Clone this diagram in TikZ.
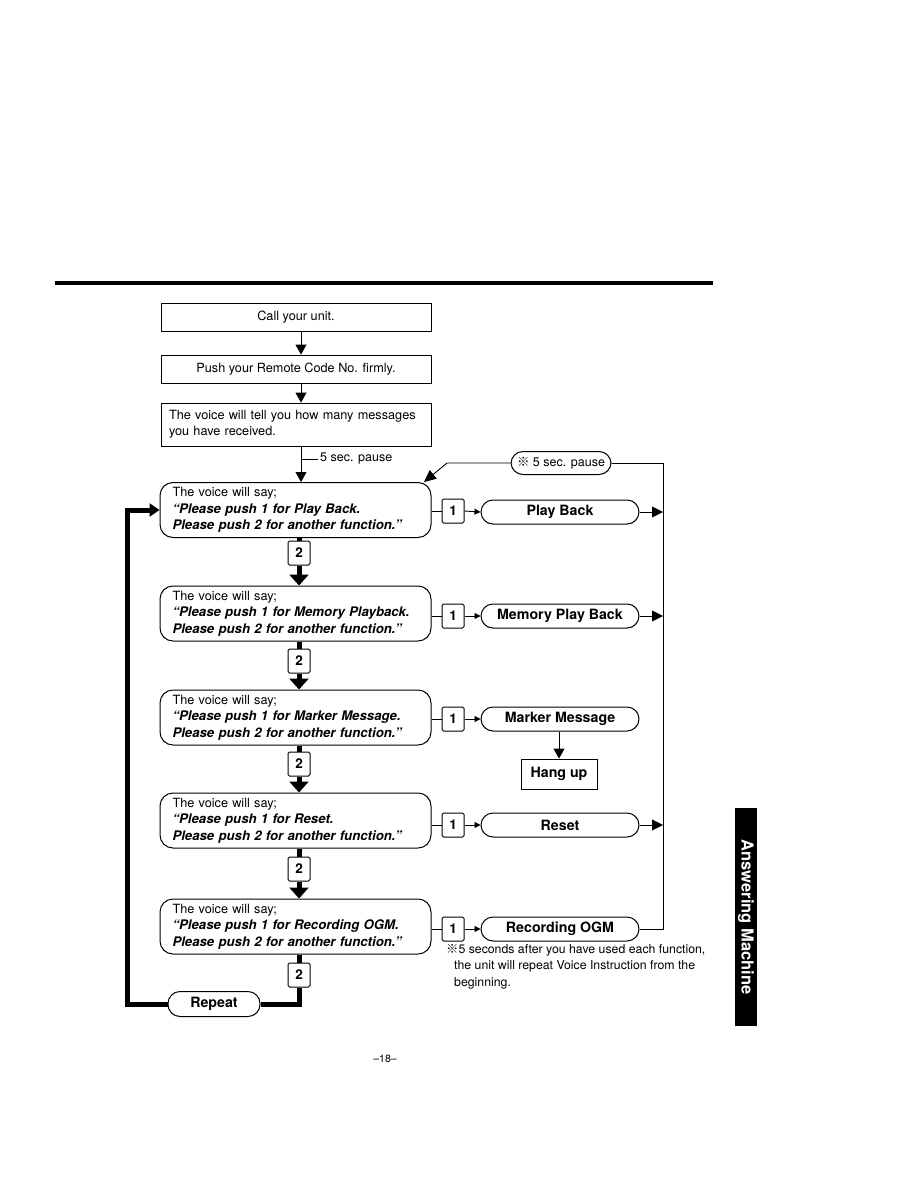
\documentclass[tikz,border=0pt]{standalone}
\usepackage{fontspec}
\setmainfont{TeX Gyre Heros}
\newfontfamily\marksym{Noto Sans CJK SC}
\usetikzlibrary{arrows.meta,positioning}

\newcommand\sayline[1]{{\fontsize{13.2}{16.5}\selectfont\textbf{\textit{#1}}}}

\tikzset{
  plainbox/.style={draw, line width=0.9pt, minimum width=270pt, minimum height=28pt,
    inner sep=0pt, font=\fontsize{12.7}{15.5}\selectfont},
  voicebox/.style={draw, line width=1pt, rounded corners=13pt, text width=246pt,
    inner xsep=12.5pt, minimum height=55pt, align=left,
    font=\fontsize{12.7}{16.5}\selectfont},
  keybox/.style={draw, line width=1pt, rounded corners=1.5pt, minimum width=22pt,
    minimum height=24pt, inner sep=0pt, font=\fontsize{13.5}{14}\selectfont\bfseries},
  capsule/.style={draw, line width=1pt, rounded corners=12pt, minimum width=158pt,
    minimum height=24pt, inner sep=0pt, font=\fontsize{14.2}{15}\selectfont\bfseries},
  thinarrow/.style={line width=0.9pt, -{Triangle[width=11pt,length=10pt]}},
  smallarrow/.style={line width=0.9pt, -{Triangle[width=6pt,length=6pt]}},
  fatline/.style={line width=5pt},
  fatarrow/.style={line width=5pt, -{Triangle[width=19pt,length=11pt]}},
  looparrow/.style={line width=5pt, -{Triangle[width=13pt,length=10pt]}},
}

\begin{document}
\begin{tikzpicture}[x=1pt,y=-1pt]
    % --- page frame ---
    \useasboundingbox (0,0) rectangle (918,1188);
    \def\midx{295.5}   % centre of the left column
    \def\keyx{453}     % centre of the "1" keys
    \def\capx{560}     % centre of the function capsules

    \coordinate (flow) at (301,0);
    \coordinate (bus) at (663,0);

    % --- top rule ---
    \draw[line width=4pt] (55,283) -- (713,283);

    % --- first steps ---
    \node[plainbox] (call) at (296,317) {Call your unit.};
    \node[plainbox] (code) at (296,369) {Push your Remote Code No. firmly.};
    \node[plainbox, minimum height=43pt, text width=254pt, align=left] (count) at (296,424.5)
        {The voice will tell you how many messages\\you have received.};

    \draw[thinarrow] (call.south -| flow) -- (code.north -| flow);
    \draw[thinarrow] (code.south -| flow) -- (count.north -| flow);

    % --- voice menus ---
    \node[voicebox] (voiceA) at (\midx,510) {The voice will say;\\
        \sayline{``Please push 1 for Play Back.}\\ \sayline{Please push 2 for another function.''}};
    \node[voicebox] (voiceB) at (\midx,613.5) {The voice will say;\\
        \sayline{``Please push 1 for Memory Playback.}\\ \sayline{Please push 2 for another function.''}};
    \node[voicebox] (voiceC) at (\midx,717.5) {The voice will say;\\
        \sayline{``Please push 1 for Marker Message.}\\ \sayline{Please push 2 for another function.''}};
    \node[voicebox] (voiceD) at (\midx,820.5) {The voice will say;\\
        \sayline{``Please push 1 for Reset.}\\ \sayline{Please push 2 for another function.''}};
    \node[voicebox] (voiceE) at (\midx,926.5) {The voice will say;\\
        \sayline{``Please push 1 for Recording OGM.}\\ \sayline{Please push 2 for another function.''}};

    % pause after the message count
    \node[anchor=west, inner xsep=2pt, font=\fontsize{12.5}{14}\selectfont] (pauseA) at (318,459) {5 sec. pause};
    \draw[thinarrow] (count.south -| flow) -- (voiceA.north -| flow);
    \draw[line width=0.9pt] (pauseA.west -| flow) -- (pauseA.west);

    % --- "2" keys between the menus ---
    \node[keybox] (twoA) at (299,553) {2};
    \node[keybox] (twoB) at (299,661) {2};
    \node[keybox] (twoC) at (299,764) {2};
    \node[keybox] (twoD) at (299,869) {2};
    \node[keybox] (twoE) at (299,975) {2};

    \foreach \v/\k/\n in {voiceA/twoA/voiceB, voiceB/twoB/voiceC, voiceC/twoC/voiceD, voiceD/twoD/voiceE} {
        \draw[fatline] (\v.south -| \k) -- (\k.north);
        \draw[fatarrow] (\k.south) -- (\n.north -| \k);
    }
    \draw[fatline] (voiceE.south -| twoE) -- (twoE.north);

    % --- repeat loop ---
    \node[capsule, minimum width=92pt, minimum height=25pt] (repeat) at (214,1004) {Repeat};
    \draw[fatline] (twoE.south) |- (repeat.east);
    \draw[looparrow] (repeat.west) -- ++(-40,0) |- (voiceA.west);

    % --- "1" keys and functions ---
    \node[keybox] (oneA) at (\keyx,511) {1};
    \node[keybox] (oneB) at (\keyx,616) {1};
    \node[keybox] (oneC) at (\keyx,719) {1};
    \node[keybox] (oneD) at (\keyx,825) {1};
    \node[keybox] (oneE) at (\keyx,929) {1};

    \node[capsule] (play)   at (\capx,512) {Play Back};
    \node[capsule] (memory) at (\capx,616) {Memory Play Back};
    \node[capsule] (marker) at (\capx,719) {Marker Message};
    \node[capsule] (reset)  at (\capx,825) {Reset};
    \node[capsule] (ogm)    at (\capx,929) {Recording OGM};

    \foreach \v/\k/\c in {voiceA/oneA/play, voiceB/oneB/memory, voiceC/oneC/marker, voiceD/oneD/reset, voiceE/oneE/ogm} {
        \draw[line width=0.9pt] (\k.west -| \v.east) -- (\k.west);
        \draw[smallarrow] (\k.east) -- (\c.west);
    }

    % hang up after a marker message
    \node[draw, line width=0.9pt, minimum width=76pt, minimum height=30pt, inner sep=0pt,
        font=\fontsize{14.2}{15}\selectfont\bfseries] (hangup) at (559,774) {Hang up};
    \draw[thinarrow] (marker.south -| hangup) -- (hangup.north);

    % --- return line on the right ---
    \node[capsule, minimum width=100pt, minimum height=23pt, font=\fontsize{12.5}{14}\selectfont]
        (pauseB) at (561,463) {{\marksym ※} 5 sec. pause};
    \coordinate (bend) at (447,463);
    \coordinate (entry) at (424,482);

    \foreach \c in {play, memory, reset}
        \draw[line width=0.9pt, -{Triangle[width=11pt,length=11pt]}] (\c.east) -- (\c.east -| bus);
    \draw[line width=0.9pt] (ogm.east) -- (ogm.east -| bus) -- (pauseB.east -| bus) -- (pauseB.east);
    \draw[line width=0.9pt, -{Triangle[width=11pt,length=12pt]}] (pauseB.west) -- (bend) -- (entry);

    % --- note ---
    \node[anchor=north west, align=left, inner sep=0pt, font=\fontsize{12.3}{16.5}\selectfont] (note) at (446,944)
        {{\marksym ※}5 seconds after you have used each function,\\
         \hspace{8pt}the unit will repeat Voice Instruction from the\\
         \hspace{8pt}beginning.};

    % --- side tab ---
    \node[fill=black, minimum width=22pt, minimum height=218pt, inner sep=0pt] (tab) at (746,917) {};
    \node[rotate=-90, text=white, font=\fontsize{16.5}{17}\selectfont\bfseries] (tablbl) at (tab) {Answering Machine};

    % --- page number ---
    \node[font=\fontsize{10.5}{11}\selectfont] (page) at (385,1059) {--18--};
\end{tikzpicture}
\end{document}
